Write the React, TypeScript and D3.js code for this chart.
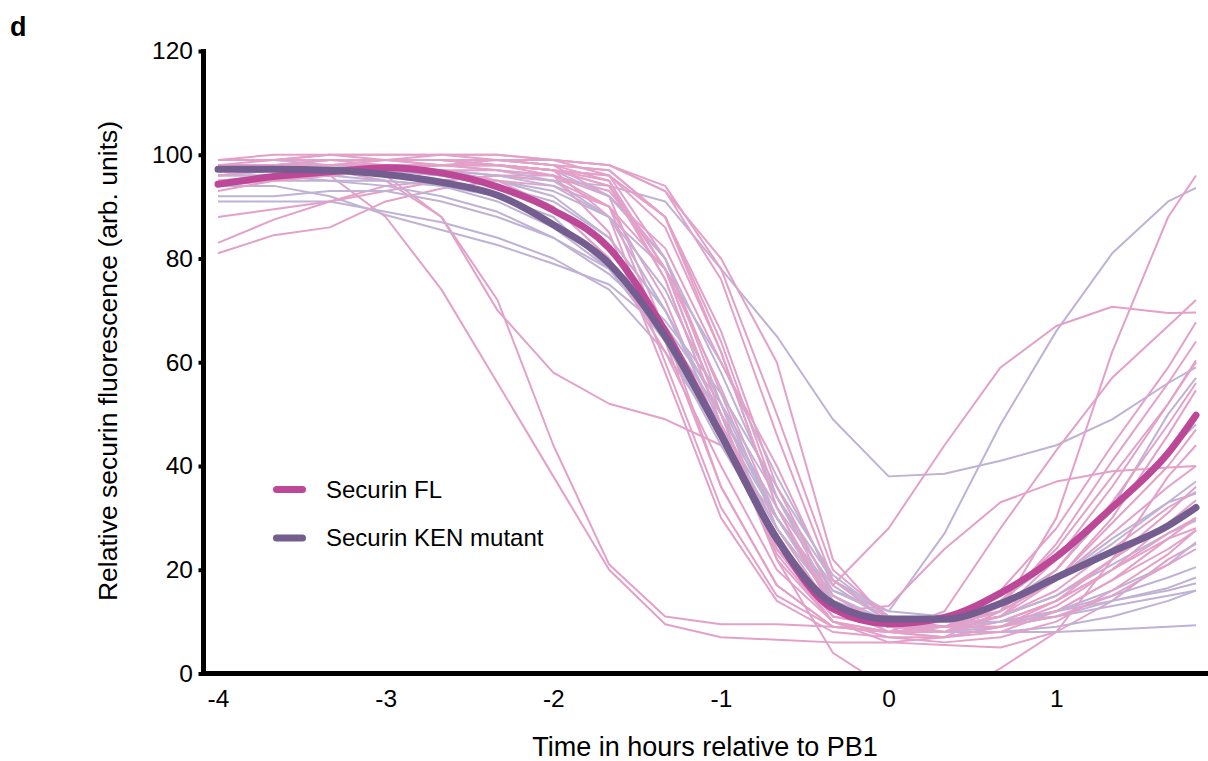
import React, { useEffect, useRef } from 'react';
import * as d3 from 'd3';

// sample times (hours relative to PB1), 20 min apart
const times = [-4, -3.667, -3.333, -3, -2.667, -2.333, -2, -1.667, -1.333, -1, -0.667, -0.333, 0, 0.333, 0.667, 1, 1.333, 1.667, 1.833];

const xTicks = [-4, -3, -2, -1, 0, 1];
const yTicks = [0, 20, 40, 60, 80, 100, 120];

// single oocyte traces, securin FL
const securinFL: number[][] = [
  [97, 97, 96, 88, 74, 56, 38, 20, 9.5, 7, 6.5, 6, 6, 5.5, 5, 8, 14, 22, 25],
  [96, 97, 97, 96, 88, 72, 44, 21, 11, 9.5, 9.5, 9, 8, 8, 10, 14, 20, 26, 28],
  [95, 96, 97, 95, 88, 70, 58, 52, 49, 44, 30, 14, 9, 9, 11, 15, 22, 29, 32],
  [81, 84.5, 86, 91, 93.5, 95, 94, 90, 78, 55, 30, 13, 9, 9, 11, 16, 24, 32, 35],
  [83, 87.5, 91, 94, 95, 96, 95, 90, 72, 46, 24, 11, 9, 8, 10, 14, 20, 27, 30],
  [88, 89.5, 91, 93, 95, 96, 96, 93, 80, 54, 28, 12, 9, 8, 9, 12, 18, 24, 27.6],
  [98, 99, 99, 99, 99, 98, 96, 92, 82, 60, 40, 17, 28, 44, 59, 67, 70.7, 69.5, 69.6],
  [99, 99, 100, 100, 100, 99, 99, 96, 80, 52, 24, 10, 6, 7, 12, 30, 62, 88, 96],
  [99, 99, 99, 99, 99, 99, 98, 92, 66, 36, 17, 9, 8, 12, 28, 43, 57, 67, 72],
  [98, 98, 99, 99, 99, 99, 98, 97, 88, 64, 34, 14, 9, 10, 16, 28, 44, 59, 67.7],
  [94, 95, 96, 97, 98, 99, 98, 95, 76, 48, 22, 10, 8, 8, 13, 25, 41, 56, 64],
  [99, 99, 100, 99, 99, 99, 99, 98, 93, 76, 46, 18, 10, 9, 12, 22, 36, 52, 60.4],
  [98, 98, 98, 99, 99, 98, 97, 88, 60, 32, 15, 9, 8, 9, 14, 24, 38, 52, 60],
  [93, 95, 96, 97, 98, 98, 97, 94, 78, 50, 24, 11, 9, 9, 11, 20, 33, 48, 56],
  [99, 99, 99, 99, 100, 100, 99, 98, 94, 78, 50, 20, 11, 10, 12, 18, 30, 46, 54.6],
  [98, 98, 99, 99, 99, 99, 98, 97, 88, 62, 32, 12, 13, 24, 33, 37, 39, 39.7, 40],
  [99, 99, 99, 99, 98, 98, 97, 95, 78, 50, 22, 4, -3, -5, 1, 8, 22, 38, 44],
  [98, 98, 98, 99, 98, 97, 96, 90, 64, 36, 17, 9, 8, 7, 9, 14, 22, 31, 36],
  [96, 97, 97, 98, 98, 98, 97, 94, 76, 48, 23, 10, 7, 7, 9, 13, 20, 29, 33.4],
  [99, 99, 99, 98, 98, 98, 97, 96, 86, 62, 32, 13, 8, 7, 8, 12, 18, 26, 30],
  [95, 96, 96, 97, 97, 97, 96, 85, 58, 30, 14, 8, 7, 6, 7, 10, 16, 23, 27.6],
  [99, 100, 100, 100, 100, 100, 99, 98, 93, 80, 60, 22, 10, 9, 9, 11, 15, 21, 24],
  [98, 98, 99, 99, 99, 98, 97, 96, 88, 66, 36, 15, 9, 8, 11, 18, 29, 40, 47],
  [97, 98, 98, 98, 97, 95, 90, 80, 62, 40, 20, 10, 8, 9, 12, 18, 27, 36, 40],
];

// single oocyte traces, securin KEN mutant
const securinKEN: number[][] = [
  [96, 96, 97, 97, 97, 96, 95, 94, 91, 78, 65, 49, 38, 38.5, 41, 44, 49, 56, 59],
  [97, 97, 97, 97, 96, 95, 93, 88, 78, 60, 38, 18, 12, 27, 48, 66, 81, 91, 93.6],
  [91, 91, 91, 89, 87, 84, 80, 74, 62, 46, 28, 14, 8, 8, 8, 8, 8.5, 9, 9.3],
  [94, 94, 92, 88.4, 85.5, 82.6, 79, 75, 66, 50, 32, 17, 10, 9, 10, 11, 13, 15, 16],
  [96, 96, 95, 95, 94, 92, 88, 78, 64, 46, 28, 14, 10, 9, 11, 15, 21, 27, 29.5],
  [98, 98, 98, 97, 96, 94, 90, 80, 64, 44, 26, 13, 9, 9, 12, 18, 25, 33, 37],
  [99, 99, 98, 98, 97, 95, 92, 84, 70, 50, 30, 15, 10, 10, 14, 22, 32, 43, 48],
  [97, 97, 96, 95, 94, 91, 86, 78, 65, 48, 30, 15, 9, 8, 9, 12, 16, 21, 25.3],
  [95, 95, 95, 94, 92, 89, 84, 77, 67, 52, 34, 18, 11, 10, 10, 12, 15, 18.5, 20.5],
  [92, 92, 93, 93, 91, 88, 84, 78, 68, 54, 36, 19, 11, 9, 9, 11, 14, 16.5, 18.5],
  [98, 98, 98, 98, 98, 97, 95, 88, 70, 48, 28, 14, 10, 9, 10, 12, 14, 16, 17.4],
  [96, 97, 97, 97, 96, 94, 91, 84, 70, 50, 30, 16, 12, 11, 13, 18, 26, 33, 34.7],
  [99, 99, 99, 99, 99, 98, 97, 92, 80, 58, 34, 16, 11, 10, 13, 20, 32, 50, 57],
  [97, 97, 97, 97, 97, 96, 94, 88, 74, 52, 30, 14, 10, 8, 8, 9, 11, 14, 16],
];

// averages
const meanFL = [94.3, 95.8, 96.7, 97.5, 96.5, 93.8, 89.3, 82, 66, 46, 26, 12.5, 9.6, 10.8, 15.5, 22.5, 32, 42.5, 49.8];
const meanKEN = [97.2, 97.2, 97, 96.2, 94.7, 92.2, 86.5, 79, 65, 46, 26, 13.5, 10.5, 10.5, 13.5, 18.5, 23.5, 28.5, 32];

const legendLabels = ['Securin FL', 'Securin KEN mutant'];

const WIDTH = 1208;
const HEIGHT = 761;
const FONT = '"Liberation Sans", Arial, Helvetica, sans-serif';

export default function App() {
  const svgRef = useRef<SVGSVGElement>(null);

  useEffect(() => {
    if (!svgRef.current) return;
    const svg = d3.select(svgRef.current);
    svg.selectAll('*').remove();

    const x = d3.scaleLinear().domain([-4, 1.833]).range([218, 1196]);
    const y = d3.scaleLinear().domain([0, 120]).range([673.5, 51]);

    const thinPink = '#e3a1c9';
    const thinLav = '#bfb2d5';
    const colorFL = '#be4898';
    const colorKEN = '#735e8f';

    svg.append('rect').attr('width', WIDTH).attr('height', HEIGHT).attr('fill', '#fff');

    svg.append('defs')
      .append('clipPath')
      .attr('id', 'plot-clip')
      .append('rect')
      .attr('x', 205)
      .attr('y', 0)
      .attr('width', WIDTH - 205)
      .attr('height', 671);

    const plot = svg.append('g').attr('clip-path', 'url(#plot-clip)');

    const traceLine = d3.line<number>()
      .x((_, i) => x(times[i]))
      .y(d => y(d));

    // interleave the two groups so neither sits fully on top
    const n = Math.max(securinFL.length, securinKEN.length);
    for (let i = 0; i < n; i++) {
      if (securinKEN[i]) {
        plot.append('path')
          .attr('d', traceLine(securinKEN[i]))
          .attr('fill', 'none')
          .attr('stroke', thinLav)
          .attr('stroke-width', 2)
          .attr('stroke-linejoin', 'round');
      }
      if (securinFL[i]) {
        plot.append('path')
          .attr('d', traceLine(securinFL[i]))
          .attr('fill', 'none')
          .attr('stroke', thinPink)
          .attr('stroke-width', 2)
          .attr('stroke-linejoin', 'round');
      }
    }

    const meanLine = d3.line<number>()
      .x((_, i) => x(times[i]))
      .y(d => y(d))
      .curve(d3.curveMonotoneX);

    plot.append('path')
      .attr('d', meanLine(meanFL))
      .attr('fill', 'none')
      .attr('stroke', colorFL)
      .attr('stroke-width', 7)
      .attr('stroke-linecap', 'round');

    plot.append('path')
      .attr('d', meanLine(meanKEN))
      .attr('fill', 'none')
      .attr('stroke', colorKEN)
      .attr('stroke-width', 7)
      .attr('stroke-linecap', 'round');

    // y axis
    const yAxis = svg.append('g')
      .attr('transform', 'translate(203.5,0)')
      .call(d3.axisLeft(y).tickValues(yTicks).tickSize(5).tickSizeOuter(0).tickPadding(5.5));
    yAxis.select('.domain').remove();
    yAxis.selectAll('.tick line').attr('stroke', '#000').attr('stroke-width', 4);
    yAxis.selectAll('.tick text')
      .style('font-family', FONT)
      .style('font-size', '24.5px')
      .attr('fill', '#000');

    svg.append('line')
      .attr('x1', 203.5).attr('x2', 203.5)
      .attr('y1', 49).attr('y2', 676)
      .attr('stroke', '#000')
      .attr('stroke-width', 5);

    // x axis, plain hyphen for the minus sign
    const xAxis = svg.append('g')
      .attr('transform', 'translate(0,673.5)')
      .call(d3.axisBottom(x).tickValues(xTicks).tickSize(0).tickPadding(16).tickFormat(d => String(d)));
    xAxis.select('.domain').remove();
    xAxis.selectAll('.tick text')
      .style('font-family', FONT)
      .style('font-size', '24.5px')
      .attr('fill', '#000');

    svg.append('line')
      .attr('x1', 201).attr('x2', WIDTH)
      .attr('y1', 673.5).attr('y2', 673.5)
      .attr('stroke', '#000')
      .attr('stroke-width', 5);

    // axis titles
    svg.append('text')
      .attr('x', 705)
      .attr('y', 756)
      .attr('text-anchor', 'middle')
      .style('font-family', FONT)
      .style('font-size', '27px')
      .text('Time in hours relative to PB1');

    svg.append('text')
      .attr('transform', 'translate(117,361) rotate(-90)')
      .attr('text-anchor', 'middle')
      .style('font-family', FONT)
      .style('font-size', '26.5px')
      .text('Relative securin fluorescence (arb. units)');

    // panel letter
    svg.append('text')
      .attr('x', 10)
      .attr('y', 36)
      .style('font-family', FONT)
      .style('font-size', '27px')
      .style('font-weight', 'bold')
      .text('d');

    // legend
    const legendColors = [colorFL, colorKEN];
    legendLabels.forEach((label, i) => {
      const g = svg.append('g').attr('transform', `translate(0, ${489.5 + i * 48.5})`);
      g.append('line')
        .attr('x1', 276.5).attr('x2', 302.5)
        .attr('stroke', legendColors[i])
        .attr('stroke-width', 7)
        .attr('stroke-linecap', 'round');
      g.append('text')
        .attr('x', 326)
        .attr('dy', '0.35em')
        .style('font-family', FONT)
        .style('font-size', '24px')
        .text(label);
    });
  }, []);

  return (
    <svg
      ref={svgRef}
      width={WIDTH}
      height={HEIGHT}
      style={{ position: 'absolute', left: 0, top: 0, display: 'block' }}
    />
  );
}
